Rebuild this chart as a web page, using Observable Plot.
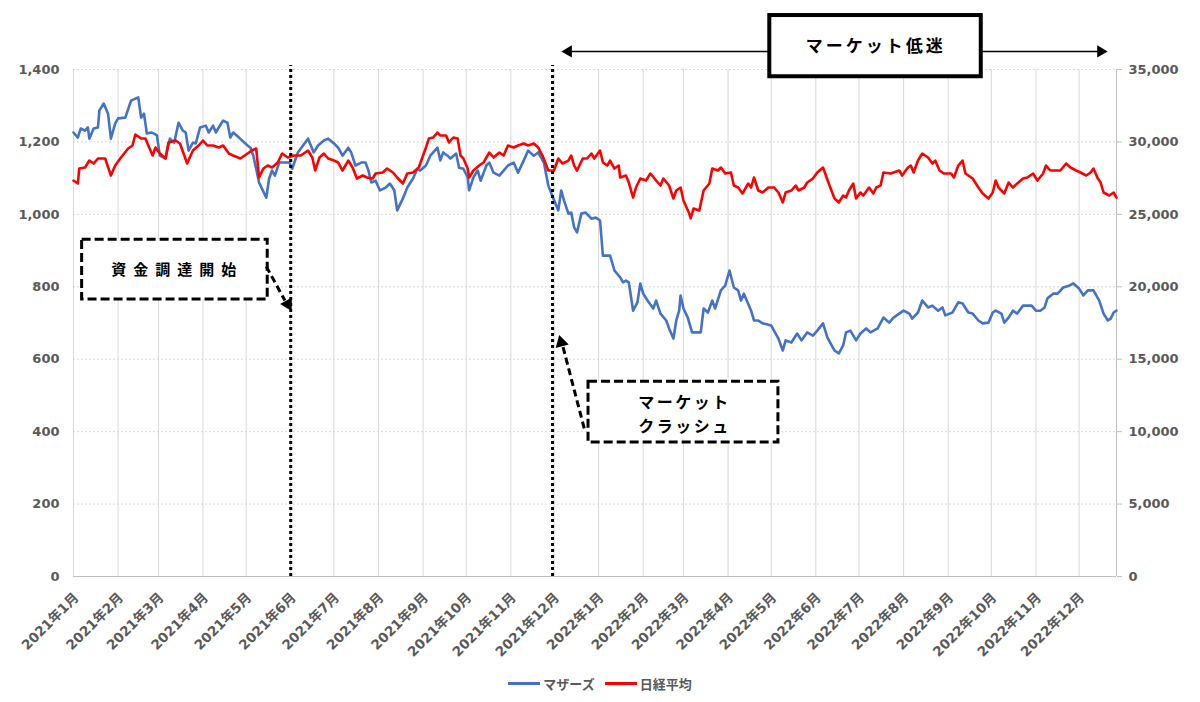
<!DOCTYPE html>
<html>
<head>
<meta charset="utf-8">
<script src="https://cdn.jsdelivr.net/npm/d3@7"></script>
<script src="https://cdn.jsdelivr.net/npm/@observablehq/plot@0.6"></script>
<style>
  html, body { margin: 0; padding: 0; background: #fff; }
  #chart svg { display: block; }
  #legend { height: 37px; display: flex; justify-content: center; align-items: center; gap: 10px;
    font-family: "Noto Sans CJK JP", "DejaVu Sans", sans-serif; font-size: 13px; font-weight: 600; color: #595959; }
  #legend .item { display: flex; align-items: center; gap: 3px; }
  #legend .sw { display: inline-block; width: 32px; height: 3px; }
</style>
</head>
<body>
<div id="chart"></div>
<div id="legend"></div>
<script>
// マザーズ (left axis)
const mothers = [["2021-01-04",1226],["2021-01-07",1212],["2021-01-09",1237],["2021-01-12",1231],["2021-01-14",1240],["2021-01-15",1209],["2021-01-18",1237],["2021-01-21",1240],["2021-01-22",1287],["2021-01-25",1306],["2021-01-28",1278],["2021-01-30",1209],["2021-02-02",1251],["2021-02-04",1265],["2021-02-09",1267],["2021-02-13",1314],["2021-02-18",1323],["2021-02-20",1267],["2021-02-22",1278],["2021-02-24",1223],["2021-02-27",1226],["2021-03-01",1223],["2021-03-03",1218],["2021-03-05",1162],["2021-03-09",1154],["2021-03-12",1209],["2021-03-15",1198],["2021-03-18",1253],["2021-03-21",1231],["2021-03-23",1226],["2021-03-25",1176],["2021-03-28",1198],["2021-03-30",1196],["2021-04-02",1240],["2021-04-06",1245],["2021-04-08",1226],["2021-04-11",1245],["2021-04-13",1226],["2021-04-15",1240],["2021-04-18",1259],["2021-04-21",1253],["2021-04-23",1212],["2021-04-25",1226],["2021-04-29",1212],["2021-05-05",1190],["2021-05-07",1184],["2021-05-09",1162],["2021-05-13",1088],["2021-05-15",1071],["2021-05-18",1046],["2021-05-20",1099],["2021-05-22",1121],["2021-05-24",1107],["2021-05-27",1143],["2021-05-30",1143],["2021-06-03",1143],["2021-06-05",1126],["2021-06-09",1171],["2021-06-16",1209],["2021-06-20",1171],["2021-06-23",1190],["2021-06-27",1204],["2021-06-30",1209],["2021-07-04",1196],["2021-07-07",1184],["2021-07-10",1162],["2021-07-14",1184],["2021-07-16",1171],["2021-07-19",1135],["2021-07-23",1143],["2021-07-26",1143],["2021-07-28",1121],["2021-07-30",1088],["2021-08-02",1093],["2021-08-05",1066],["2021-08-09",1074],["2021-08-12",1085],["2021-08-15",1066],["2021-08-17",1011],["2021-08-21",1044],["2021-08-24",1074],["2021-08-28",1099],["2021-08-31",1126],["2021-09-02",1121],["2021-09-06",1135],["2021-09-09",1162],["2021-09-11",1171],["2021-09-14",1184],["2021-09-16",1149],["2021-09-18",1171],["2021-09-21",1162],["2021-09-23",1154],["2021-09-27",1168],["2021-09-29",1129],["2021-10-02",1126],["2021-10-05",1102],["2021-10-06",1066],["2021-10-09",1102],["2021-10-12",1121],["2021-10-14",1093],["2021-10-18",1135],["2021-10-20",1143],["2021-10-23",1115],["2021-10-27",1107],["2021-10-30",1121],["2021-11-02",1135],["2021-11-06",1143],["2021-11-09",1115],["2021-11-13",1149],["2021-11-16",1176],["2021-11-20",1162],["2021-11-23",1171],["2021-11-27",1143],["2021-11-30",1080],["2021-12-03",1049],["2021-12-07",1011],["2021-12-09",1066],["2021-12-11",1038],["2021-12-14",1002],["2021-12-16",1005],["2021-12-18",964],["2021-12-20",950],["2021-12-23",1002],["2021-12-26",1005],["2021-12-30",988],["2022-01-02",991],["2022-01-05",983],["2022-01-07",886],["2022-01-12",886],["2022-01-15",845],["2022-01-19",826],["2022-01-21",812],["2022-01-23",817],["2022-01-25",812],["2022-01-28",734],["2022-01-31",757],["2022-02-02",809],["2022-02-04",781],["2022-02-07",762],["2022-02-11",740],["2022-02-13",762],["2022-02-16",726],["2022-02-20",707],["2022-02-22",685],["2022-02-25",657],["2022-02-27",707],["2022-03-01",734],["2022-03-02",776],["2022-03-04",740],["2022-03-07",715],["2022-03-09",687],["2022-03-10",674],["2022-03-14",674],["2022-03-16",674],["2022-03-18",740],["2022-03-21",729],["2022-03-24",762],["2022-03-26",740],["2022-03-30",790],["2022-04-02",803],["2022-04-05",845],["2022-04-08",798],["2022-04-11",790],["2022-04-13",762],["2022-04-15",781],["2022-04-20",734],["2022-04-22",707],["2022-04-25",707],["2022-04-28",699],["2022-05-04",693],["2022-05-09",657],["2022-05-12",624],["2022-05-14",652],["2022-05-18",646],["2022-05-22",671],["2022-05-25",652],["2022-05-29",674],["2022-06-02",665],["2022-06-05",679],["2022-06-09",699],["2022-06-12",660],["2022-06-17",624],["2022-06-20",616],["2022-06-23",638],["2022-06-25",674],["2022-06-28",679],["2022-07-02",652],["2022-07-05",671],["2022-07-09",685],["2022-07-12",674],["2022-07-17",685],["2022-07-21",715],["2022-07-25",701],["2022-07-28",715],["2022-08-01",726],["2022-08-04",734],["2022-08-08",726],["2022-08-10",712],["2022-08-14",729],["2022-08-17",762],["2022-08-21",743],["2022-08-24",748],["2022-08-28",734],["2022-08-31",743],["2022-09-02",721],["2022-09-07",729],["2022-09-09",743],["2022-09-11",757],["2022-09-14",754],["2022-09-18",729],["2022-09-21",726],["2022-09-25",707],["2022-09-28",699],["2022-10-02",701],["2022-10-05",729],["2022-10-07",734],["2022-10-11",726],["2022-10-13",701],["2022-10-16",715],["2022-10-19",734],["2022-10-22",726],["2022-10-26",748],["2022-11-01",748],["2022-11-04",734],["2022-11-07",734],["2022-11-10",743],["2022-11-12",768],["2022-11-16",781],["2022-11-19",781],["2022-11-23",798],["2022-11-27",803],["2022-11-30",809],["2022-12-04",795],["2022-12-07",776],["2022-12-10",790],["2022-12-14",790],["2022-12-18",762],["2022-12-21",726],["2022-12-24",707],["2022-12-26",712],["2022-12-28",729],["2022-12-30",734]];

// 日経平均 (right axis)
const nikkei = [["2021-01-04",27336],["2021-01-07",27129],["2021-01-08",28164],["2021-01-12",28233],["2021-01-15",28716],["2021-01-18",28509],["2021-01-21",28855],["2021-01-26",28855],["2021-01-30",27681],["2021-02-02",28371],["2021-02-06",28924],["2021-02-11",29545],["2021-02-14",29752],["2021-02-16",30511],["2021-02-20",30235],["2021-02-23",30235],["2021-02-25",29752],["2021-02-28",29062],["2021-03-02",29614],["2021-03-05",29200],["2021-03-09",28855],["2021-03-11",29959],["2021-03-16",30097],["2021-03-19",29890],["2021-03-24",28509],["2021-03-28",29407],["2021-04-01",29752],["2021-04-04",30097],["2021-04-07",29752],["2021-04-11",29752],["2021-04-15",29614],["2021-04-18",29752],["2021-04-22",29200],["2021-04-25",29062],["2021-04-30",28855],["2021-05-05",29200],["2021-05-08",29407],["2021-05-11",29545],["2021-05-13",27543],["2021-05-16",28164],["2021-05-19",28371],["2021-05-22",28233],["2021-05-26",28578],["2021-05-29",29200],["2021-06-02",28924],["2021-06-06",29062],["2021-06-11",29062],["2021-06-16",29407],["2021-06-19",28924],["2021-06-21",28026],["2021-06-24",28924],["2021-06-27",29200],["2021-06-30",28855],["2021-07-04",28716],["2021-07-07",28578],["2021-07-10",28026],["2021-07-14",28716],["2021-07-17",28233],["2021-07-20",27474],["2021-07-24",27681],["2021-07-27",27543],["2021-07-31",27474],["2021-08-02",27819],["2021-08-07",27888],["2021-08-10",28164],["2021-08-14",27888],["2021-08-17",27543],["2021-08-19",27336],["2021-08-21",27129],["2021-08-24",27819],["2021-08-28",27888],["2021-09-01",28233],["2021-09-04",29062],["2021-09-06",29614],["2021-09-08",30235],["2021-09-11",30304],["2021-09-14",30649],["2021-09-16",30442],["2021-09-20",30442],["2021-09-22",29959],["2021-09-25",30304],["2021-09-28",30235],["2021-09-30",29062],["2021-10-02",28855],["2021-10-05",28164],["2021-10-06",27543],["2021-10-09",28026],["2021-10-13",28371],["2021-10-16",28578],["2021-10-20",29269],["2021-10-23",28924],["2021-10-27",29269],["2021-10-30",29062],["2021-11-02",29752],["2021-11-06",29614],["2021-11-09",29752],["2021-11-13",29890],["2021-11-16",29752],["2021-11-20",29890],["2021-11-23",29614],["2021-11-26",29062],["2021-11-30",28026],["2021-12-04",28026],["2021-12-07",28855],["2021-12-10",28509],["2021-12-14",28716],["2021-12-16",29062],["2021-12-18",28371],["2021-12-20",28026],["2021-12-24",28855],["2021-12-27",28855],["2021-12-30",29200],["2022-01-01",28855],["2022-01-05",29407],["2022-01-07",28578],["2022-01-10",28371],["2022-01-12",28716],["2022-01-15",28164],["2022-01-18",28371],["2022-01-19",27543],["2022-01-23",27681],["2022-01-25",27198],["2022-01-28",26162],["2022-01-30",26853],["2022-02-02",27474],["2022-02-06",27336],["2022-02-09",27819],["2022-02-13",27336],["2022-02-16",26991],["2022-02-18",27474],["2022-02-22",26991],["2022-02-25",26093],["2022-02-27",26646],["2022-03-02",26853],["2022-03-04",25955],["2022-03-08",25058],["2022-03-09",24713],["2022-03-11",25403],["2022-03-15",25265],["2022-03-18",26646],["2022-03-22",27129],["2022-03-24",28164],["2022-03-28",28026],["2022-03-30",28233],["2022-04-02",27819],["2022-04-06",27888],["2022-04-08",26991],["2022-04-11",26853],["2022-04-14",26438],["2022-04-18",27129],["2022-04-20",26853],["2022-04-22",27543],["2022-04-25",26646],["2022-04-28",26508],["2022-05-02",26853],["2022-05-06",26853],["2022-05-09",26508],["2022-05-12",25817],["2022-05-14",26508],["2022-05-18",26646],["2022-05-21",26991],["2022-05-23",26646],["2022-05-27",26853],["2022-05-29",27198],["2022-06-02",27474],["2022-06-05",27888],["2022-06-09",28233],["2022-06-13",27129],["2022-06-17",26093],["2022-06-20",25817],["2022-06-23",26300],["2022-06-25",26162],["2022-06-27",26646],["2022-06-30",27129],["2022-07-02",26093],["2022-07-05",26508],["2022-07-07",26300],["2022-07-11",26853],["2022-07-14",26438],["2022-07-16",26853],["2022-07-19",26991],["2022-07-21",27888],["2022-07-26",27819],["2022-08-01",28026],["2022-08-03",27681],["2022-08-07",28233],["2022-08-09",28371],["2022-08-11",27888],["2022-08-14",28716],["2022-08-17",29200],["2022-08-21",28924],["2022-08-24",28509],["2022-08-26",28716],["2022-08-29",28026],["2022-09-01",27819],["2022-09-06",27819],["2022-09-08",27543],["2022-09-11",28371],["2022-09-14",28716],["2022-09-16",27819],["2022-09-18",27681],["2022-09-21",27474],["2022-09-25",26853],["2022-09-28",26438],["2022-10-02",26093],["2022-10-05",26508],["2022-10-07",27336],["2022-10-09",26853],["2022-10-13",26438],["2022-10-16",27198],["2022-10-19",26853],["2022-10-22",27129],["2022-10-26",27474],["2022-10-29",27543],["2022-11-02",27819],["2022-11-05",27336],["2022-11-09",27819],["2022-11-11",28371],["2022-11-14",28026],["2022-11-18",28026],["2022-11-21",28026],["2022-11-25",28509],["2022-11-28",28233],["2022-12-02",28026],["2022-12-05",27888],["2022-12-09",27681],["2022-12-12",27888],["2022-12-14",28164],["2022-12-17",27474],["2022-12-19",27198],["2022-12-21",26508],["2022-12-25",26300],["2022-12-28",26508],["2022-12-30",26162]];

const seriesNames = ["マザーズ", "日経平均"];
const seriesColors = ["#4472C4", "#FF0000"];
const leftTicks = [0, 200, 400, 600, 800, 1000, 1200, 1400];
const axisRatio = 25; // 35,000 / 1,400
const xStart = "2021-01-04", xEnd = "2022-12-30";
const eventDates = ["2021-06-04", "2021-12-03"]; // dotted markers

// annotation anchors (data coordinates)
const fundBox = {x1: "2021-01-10", x2: "2021-05-19", y1: 765, y2: 930, cx: "2021-03-15", cy: 847, text: "資金調達開始"};
const crashBox = {x1: "2021-12-28", x2: "2022-05-09", y1: 370, y2: 538, cx: "2022-03-04", cy: 454, text: "マーケット\nクラッシュ"};
const slumpBox = {x1: "2022-05-03", x2: "2022-09-27", y1: 1380, y2: 1549, cx: "2022-07-15", cy: 1463, text: "マーケット低迷"};
const dashedArrows = [
  {x1: "2021-05-18", y1: 856, x2: "2021-05-31", y2: 762, hx: "2021-06-02", hy: 752, rot: 151},
  {x1: "2021-12-25", y1: 409, x2: "2021-12-10", y2: 638, hx: "2021-12-09", hy: 646, rot: -15}
];
const slumpArrows = [
  {x1: "2022-05-03", x2: "2021-12-16", y: 1450, hx: "2021-12-14", rot: -90},
  {x1: "2022-09-27", x2: "2022-12-18", y: 1450, hx: "2022-12-19", rot: 90}
];

const D = s => new Date(s);
const mData = mothers.map(([d, v]) => ({date: D(d), value: v}));
const nData = nikkei.map(([d, v]) => ({date: D(d), value: v}));
const tickDates = d3.utcMonth.range(D("2021-01-01"), D("2023-01-01")).map(d => d3.utcDay.offset(d, 3));
const fmtMonth = d => `${d.getUTCFullYear()}年${d.getUTCMonth() + 1}月`;
const fmtNum = d3.format(",");
const jp = '"Noto Sans CJK JP", sans-serif';

const box = (b, dash, sw) => Plot.rect([b], {x1: d => D(d.x1), x2: d => D(d.x2), y1: "y1", y2: "y2",
  fill: "white", stroke: "black", strokeWidth: sw, strokeDasharray: dash});

const chart = Plot.plot({
  width: 1200, height: 665,
  marginLeft: 73, marginRight: 84, marginTop: 69, marginBottom: 89,
  style: {fontFamily: '"DejaVu Sans", "Noto Sans CJK JP", sans-serif', fontSize: "13px", fontWeight: "bold", color: "#595959", background: "white", overflow: "visible"},
  x: {type: "utc", domain: [D(xStart), D(xEnd)]},
  y: {domain: [0, 1400]},
  marks: [
    Plot.gridX(tickDates, {stroke: "#d9d9d9", strokeOpacity: 1}),
    Plot.gridY(leftTicks.slice(1), {stroke: "#d9d9d9", strokeOpacity: 1, strokeDasharray: "2,2"}),
    Plot.axisX(tickDates, {tickFormat: fmtMonth, tickRotate: -45, tickSize: 0, tickPadding: 19, dx: 3, fontSize: 13.5, fill: "#595959", label: null}),
    Plot.axisY(leftTicks, {anchor: "left", tickSize: 0, tickPadding: 14, tickFormat: fmtNum, fill: "#595959", label: null}),
    Plot.axisY(leftTicks, {anchor: "right", tickSize: 5, tickPadding: 7, tickFormat: d => fmtNum(d * axisRatio), stroke: "#bfbfbf", fill: "#595959", label: null}),
    Plot.ruleY([0], {stroke: "#bfbfbf"}),
    Plot.ruleX([D(xEnd)], {stroke: "#bfbfbf"}),
    Plot.line(mData, {x: "date", y: "value", stroke: seriesColors[0], strokeWidth: 2.6, strokeLinejoin: "round"}),
    Plot.line(nData, {x: "date", y: d => d.value / axisRatio, stroke: seriesColors[1], strokeWidth: 2.6, strokeLinejoin: "round"}),
    Plot.ruleX(eventDates.map(D), {y1: 0, y2: 1411, stroke: "black", strokeWidth: 3, strokeDasharray: "3,3"}),
    // 資金調達開始
    box(fundBox, "9,4", 3),
    Plot.text([fundBox], {x: d => D(d.cx), y: "cy", text: "text", fill: "black", fontSize: 15, fontWeight: "bold", fontFamily: jp, dx: 3, ariaDescription: "sp7"}),
    // マーケットクラッシュ
    box(crashBox, "9,4", 3),
    Plot.text([crashBox], {x: d => D(d.cx), y: "cy", text: "text", fill: "black", fontSize: 16, fontWeight: "bold", fontFamily: jp, lineHeight: 1.5, dx: 1, ariaDescription: "sp2"}),
    // dashed arrows
    Plot.link(dashedArrows, {x1: d => D(d.x1), y1: "y1", x2: d => D(d.x2), y2: "y2", stroke: "black", strokeWidth: 3, strokeDasharray: "7,4"}),
    Plot.dot(dashedArrows, {x: d => D(d.hx), y: "hy", symbol: "triangle", r: 5, fill: "black", rotate: "rot"}),
    // マーケット低迷
    Plot.link(slumpArrows, {x1: d => D(d.x1), y1: "y", x2: d => D(d.x2), y2: "y", stroke: "black", strokeWidth: 1.5}),
    Plot.dot(slumpArrows, {x: d => D(d.hx), y: "y", symbol: "triangle", r: 4.5, fill: "black", rotate: "rot"}),
    box(slumpBox, null, 4),
    Plot.text([slumpBox], {x: d => D(d.cx), y: "cy", text: "text", fill: "black", fontSize: 17, fontWeight: "bold", fontFamily: jp, dx: 1, ariaDescription: "sp3"})
  ]
});

d3.select(chart).selectAll('g[aria-description="sp7"] text').attr("letter-spacing", "7px");
d3.select(chart).selectAll('g[aria-description="sp2"] text').attr("letter-spacing", "2.5px");
d3.select(chart).selectAll('g[aria-description="sp3"] text').attr("letter-spacing", "3px");
document.getElementById("chart").appendChild(chart);

const legend = d3.select("#legend");
seriesNames.forEach((n, i) => {
  const it = legend.append("div").attr("class", "item");
  it.append("span").attr("class", "sw").style("background", seriesColors[i]);
  it.append("span").text(n);
});
</script>
</body>
</html>
